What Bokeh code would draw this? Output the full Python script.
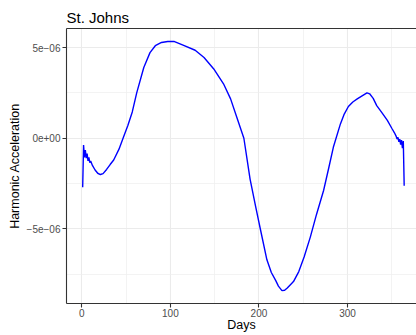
from bokeh.plotting import figure
from bokeh.models import FixedTicker, Range1d, LinearAxis
from bokeh.embed import file_html
from bokeh.resources import INLINE

# Day of year
days = [1, 2, 3, 4, 5, 6, 7, 8, 9, 10, 12, 15, 18, 21, 24, 28, 32, 36, 42, 47,
        52, 57, 62, 70, 77, 83, 90, 97, 104, 115, 128, 138, 149, 160, 168, 175,
        183, 190, 196, 202, 209, 214, 219, 222, 226, 229, 232, 235, 239, 245,
        251, 258, 265, 273, 279, 284, 292, 296, 301, 306, 311, 316, 322, 325,
        329, 333, 339, 345, 350, 353, 355, 356, 357, 358, 359, 360, 361, 362,
        363, 364]
# Harmonic acceleration, in units of 1e-06
accel_e6 = [-2.70, -0.38, -1.05, -0.65, -1.10, -0.85, -1.25, -1.05, -1.35, -1.25,
            -1.50, -1.75, -1.93, -2.00, -1.95, -1.72, -1.45, -1.20, -0.60, 0.05,
            0.70, 1.45, 2.50, 3.90, 4.72, 5.10, 5.28, 5.33, 5.34, 5.12, 4.85,
            4.45, 3.82, 3.00, 2.17, 1.16, 0.00, -2.25, -3.70, -5.10, -6.70,
            -7.40, -7.85, -8.15, -8.40, -8.38, -8.25, -8.10, -7.90, -7.35,
            -6.55, -5.45, -4.20, -2.88, -1.60, -0.50, 0.79, 1.30, 1.75, 2.00,
            2.17, 2.32, 2.50, 2.45, 2.20, 1.80, 1.40, 0.98, 0.55, 0.30, 0.10,
            -0.05, 0.05, -0.20, -0.05, -0.35, -0.10, -0.55, -0.15, -2.62]

x_major = [0, 100, 200, 300]
x_minor = [-50, 50, 150, 250, 350]
y_major = [-5, 0, 5]
y_minor = [-7.5, -2.5, 2.5, 7.5]
y_labels = {-5: "\u22125e\u221206", 0: "0e+00", 5: "5e\u221206"}

FONT = "Liberation Sans"

p = figure(width=416, height=335, output_backend="svg", toolbar_location=None,
           x_range=Range1d(-17.27, 377.9), y_range=Range1d(-9.11, 6.05),
           min_border_left=66, min_border_right=0, min_border_top=28,
           min_border_bottom=32, title="St. Johns")
p.background_fill_color = "white"
p.border_fill_color = "white"
p.outline_line_color = None

p.title.text_font = FONT
p.title.text_font_size = "15px"
p.title.text_font_style = "normal"
p.title.text_color = "black"
p.title.align = "left"
p.title.offset = 0
p.title.standoff = 6

xt = FixedTicker(ticks=x_major, minor_ticks=x_minor)
yt = FixedTicker(ticks=y_major, minor_ticks=y_minor)
p.xaxis.ticker = xt
p.yaxis.ticker = yt
p.xgrid.ticker = xt
p.ygrid.ticker = yt
p.yaxis.major_label_overrides = y_labels

for g in (p.xgrid, p.ygrid):
    g.grid_line_color = "#EBEBEB"
    g.grid_line_width = 1.1
    g.minor_grid_line_color = "#EEEEEE"
    g.minor_grid_line_width = 0.7

for ax in (p.xaxis, p.yaxis):
    ax.axis_line_color = "#333333"
    ax.axis_line_width = 1.1
    ax.major_tick_line_color = "#333333"
    ax.major_tick_line_width = 1.1
    ax.major_tick_out = 4
    ax.major_tick_in = 0
    ax.minor_tick_line_color = None
    ax.major_label_text_font = FONT
    ax.major_label_text_font_size = "10px"
    ax.major_label_text_color = "#4D4D4D"
    ax.axis_label_text_font = FONT
    ax.axis_label_text_font_size = "12.5px"
    ax.axis_label_text_font_style = "normal"
    ax.axis_label_text_color = "black"

p.yaxis.major_label_standoff = 2
p.yaxis.axis_label_standoff = 2
p.xaxis.major_label_standoff = 1
p.xaxis.axis_label_standoff = -2

p.xaxis.axis_label = "Days"
p.yaxis.axis_label = "Harmonic Acceleration"

top = LinearAxis(ticker=FixedTicker(ticks=[]), axis_line_color="#333333",
                 axis_line_width=1.1, major_tick_line_color=None,
                 minor_tick_line_color=None, major_label_text_font_size="0px")
p.add_layout(top, "above")

p.line(days, accel_e6, line_color="#0000FF", line_width=1.4)

open("out.html", "w").write(file_html(p, INLINE))
